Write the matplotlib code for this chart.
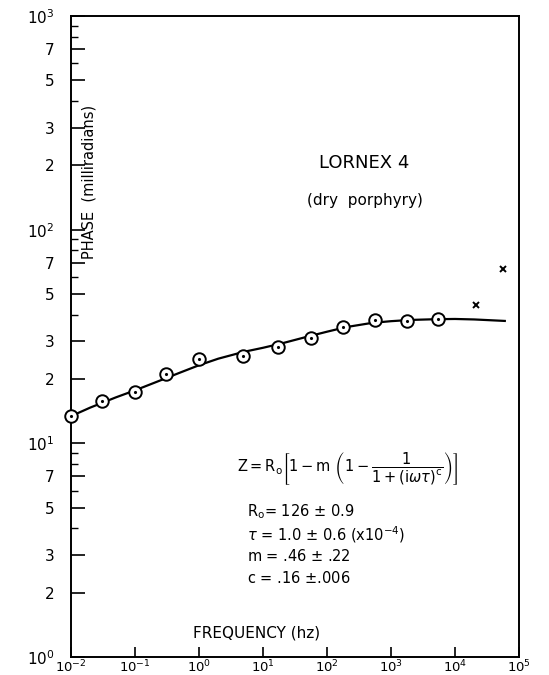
import numpy as np
import matplotlib.pyplot as plt
from matplotlib.ticker import FixedLocator, FuncFormatter, NullFormatter

# measured phase (circles)
freq = [0.01, 0.03, 0.1, 0.3, 1.0, 4.8, 17, 56, 176, 560, 1800, 5500]
phase = [13.4, 15.8, 17.4, 21.1, 24.7, 25.5, 28.3, 31.1, 35.0, 37.7, 37.4, 38.0]

# points not used in the fit (crosses)
freq_x = [21000, 55600]
phase_x = [44.2, 65.5]

# fitted curve
curve_f = [0.01, 0.02, 0.05, 0.1, 0.2, 0.5, 1, 2, 5, 10, 20, 50, 100, 200,
           500, 1000, 2000, 5000, 10000, 20000, 60000]
curve_p = [13.4, 14.7, 16.4, 17.7, 19.2, 21.4, 23.2, 24.9, 26.8, 28.0, 29.4,
           31.6, 33.3, 35.0, 36.6, 37.3, 37.8, 38.1, 38.2, 38.0, 37.4]

ytick_subs = [1, 2, 3, 5, 7]
yminor_subs = [4, 6, 8, 9]

plt.rcParams["font.family"] = "DejaVu Sans"
plt.rcParams["mathtext.fontset"] = "dejavusans"

fig = plt.figure(figsize=(5.49, 6.75), dpi=100)
ax = fig.add_axes([71 / 549, 18 / 675, 448 / 549, 641 / 675])
ax.set_xscale("log")
ax.set_yscale("log")
ax.set_xlim(1e-2, 1e5)
ax.set_ylim(1, 1e3)

ax.plot(curve_f, curve_p, color="black", lw=1.6, zorder=2)
ax.plot(freq, phase, "o", ms=9, mfc="white", mec="black", mew=1.4, zorder=3, clip_on=False)
ax.plot(freq, phase, ".", ms=2.5, color="black", zorder=4, clip_on=False)
ax.plot(freq_x, phase_x, "x", ms=5, mew=1.4, color="black", zorder=3)

decades = [1, 10, 100]
ymaj = [d * s for d in decades for s in ytick_subs] + [1000]
ymin = [d * s for d in decades for s in yminor_subs]
ax.yaxis.set_major_locator(FixedLocator(ymaj))
ax.yaxis.set_minor_locator(FixedLocator(ymin))
ax.yaxis.set_minor_formatter(NullFormatter())


def ylab(v, pos):
    e = np.log10(v)
    if abs(e - round(e)) < 1e-9:
        return r"$10^{%d}$" % round(e)
    return "%d" % round(v / 10 ** np.floor(e))


ax.yaxis.set_major_formatter(FuncFormatter(ylab))
ax.xaxis.set_major_locator(FixedLocator([10.0 ** k for k in range(-2, 6)]))
ax.xaxis.set_minor_locator(FixedLocator([]))
ax.xaxis.set_major_formatter(FuncFormatter(lambda v, p: r"$10^{%d}$" % round(np.log10(v))))

ax.tick_params(axis="y", which="major", direction="in", length=10, width=1.2,
               pad=12, labelsize=11)
ax.tick_params(axis="y", which="minor", direction="in", length=5, width=1.0)
ax.tick_params(axis="x", which="major", direction="in", length=7, width=1.2,
               pad=1, labelsize=9.5)
for s in ax.spines.values():
    s.set_linewidth(1.4)

ax.text(0.655, 0.771, "LORNEX 4", transform=ax.transAxes, ha="center",
        va="center", fontsize=13)
ax.text(0.657, 0.712, "(dry  porphyry)", transform=ax.transAxes, ha="center",
        va="center", fontsize=11)
ax.text(0.04, 0.741, "PHASE  (milliradians)", transform=ax.transAxes,
        rotation=90, ha="center", va="center", fontsize=10.5)
ax.text(0.415, 0.037, "FREQUENCY (hz)", transform=ax.transAxes, ha="center",
        va="center", fontsize=11)

ax.text(0.617, 0.293,
        r"$\mathrm{Z} = \mathrm{R_o}\left[1-\mathrm{m}\ \left(1-\dfrac{1}{1+(\mathrm{i}\omega\tau)^\mathrm{c}}\right)\right]$",
        transform=ax.transAxes, ha="center", va="center", fontsize=10.5)

params = [r"R$_\mathrm{o}$= 126 $\pm$ 0.9",
          r"$\tau$ = 1.0 $\pm$ 0.6 (x$10^{-4}$)",
          r"m = .46 $\pm$ .22",
          r"c = .16 $\pm$.006"]
for i, t in enumerate(params):
    ax.text(0.392, 0.226 - i * 0.0345, t, transform=ax.transAxes,
            ha="left", va="center", fontsize=10.5)

fig.savefig("out.png", dpi=100)
